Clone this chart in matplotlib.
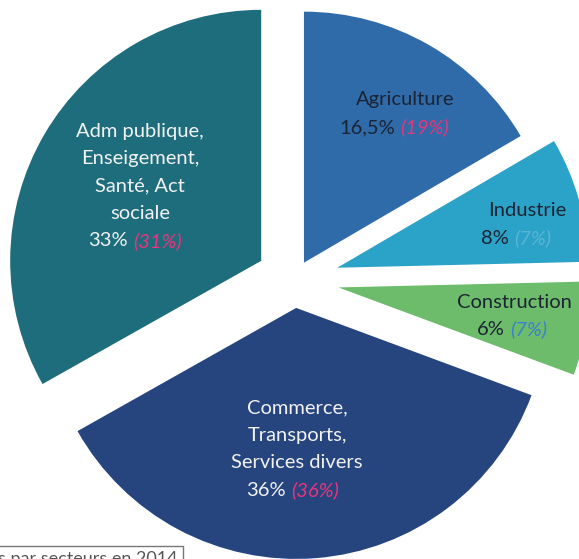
import matplotlib.pyplot as plt

# shares of employment by sector (current value, value in brackets)
sectors = ["Agriculture", "Industrie", "Construction", "Commerce", "Adm"]
shares = [16.5, 8, 6, 36, 33]
share_labels = ["16,5%", "8%", "6%", "36%", "33%"]
old_labels = ["(19%)", "(7%)", "(7%)", "(36%)", "(31%)"]
label_lines = [
    ["Agriculture"],
    ["Industrie"],
    ["Construction"],
    ["Commerce,", "Transports,", "Services divers"],
    ["Adm publique,", "Enseigement,", "Santé, Act", "sociale"],
]

colors = ["#2f6aa9", "#2ba2c7", "#6dbc6b", "#26447e", "#1e6d7c"]
explode = [20, 45, 45, 28, 38]
text_colors = ["#1c2433", "#1c2433", "#1c2433", "#f2f2f2", "#f2f2f2"]
old_colors = ["#e8357c", "#5db4d6", "#3b7fd0", "#e8357c", "#e8357c"]
# label layout in pixels: center x, first line y, split x of last line
label_pos = [(405, 100, 397), (527, 211, 511), (514, 302, 507),
             (297, 408, 288), (140, 131, 130)]

W, H = 579, 559
fig = plt.figure(figsize=(W / 100, H / 100), dpi=100)
ax = fig.add_axes([0, 0, 1, 1])

ax.pie(shares, colors=colors, explode=explode, startangle=90,
       counterclock=False, radius=251, center=(294, H - 280),
       wedgeprops=dict(linewidth=0))
ax.set_xlim(0, W)
ax.set_ylim(0, H)
ax.set_aspect("auto")
ax.axis("off")

font = "Lato"
fs = 14.5
step = 27.5
for i in range(len(sectors)):
    cx, y0, split = label_pos[i]
    for j, line in enumerate(label_lines[i]):
        ax.text(cx, H - (y0 + j * step), line, ha="center", va="center",
                fontsize=fs, family=font, color=text_colors[i])
    yl = H - (y0 + len(label_lines[i]) * step)
    ax.text(split - 2, yl, share_labels[i], ha="right", va="center",
            fontsize=fs, family=font, color=text_colors[i])
    ax.text(split + 3, yl, old_labels[i], ha="left", va="center",
            fontsize=fs, family=font, color=old_colors[i], style="italic")

# source caption, cut by the bottom edge as in the original scan
ax.text(178, H - 559, "Emplois par secteurs en 2014", ha="right", va="center",
        fontsize=13, family=font, color="#555555",
        bbox=dict(boxstyle="square,pad=0.3", fc="white", ec="#777777", lw=1))

fig.savefig("out.png", dpi=100)
